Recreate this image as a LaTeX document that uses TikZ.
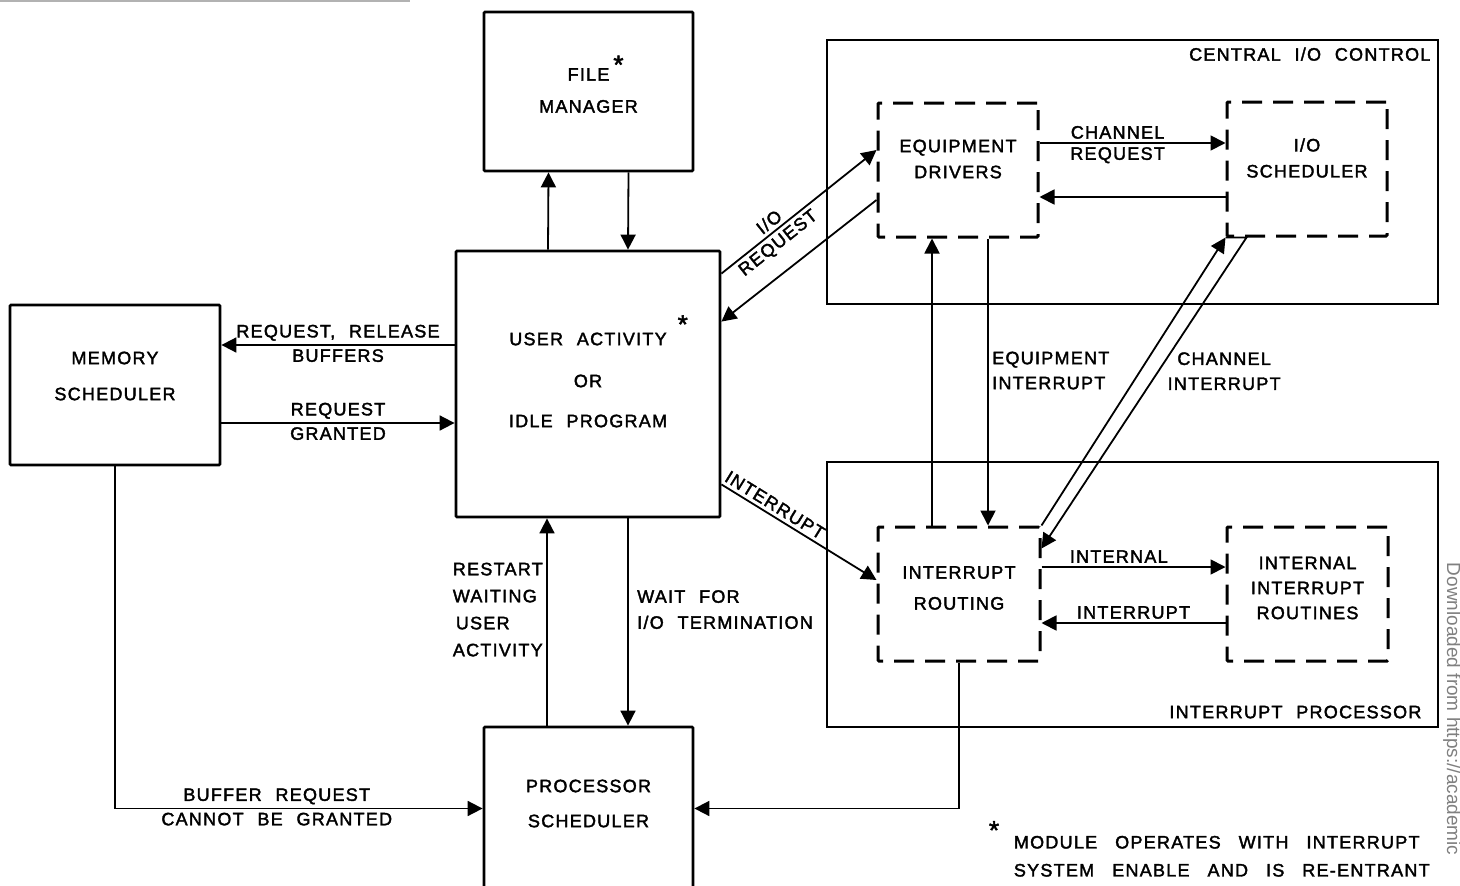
\documentclass[tikz,border=0pt]{standalone}
\usepackage{fontspec}
\setmainfont{Liberation Sans}[LetterSpace=7.0,WordSpace=2.2,FakeBold=2]
\newfontfamily\markfont{Liberation Sans}
\usetikzlibrary{arrows.meta,calc}

\newcommand{\modstar}[2]{\rlap{\hspace{#1}\smash{\raisebox{#2}{\fontsize{26}{26}\selectfont *}}}}
\newcommand{\widespaces}{\spaceskip=18pt\relax}

\begin{document}
\begin{tikzpicture}[x=1pt,y=-1pt,->,>={Triangle[length=15pt,width=15pt]},line width=1.8pt,
	font=\fontsize{18}{22}\selectfont,
	box/.style={draw,-,line width=2.8pt,rounded corners=1pt,align=center,inner sep=0pt},
	drv box/.style={box,dash pattern=on 20pt off 11pt,line width=3pt},
	area/.style={draw,-,line width=2.6pt,inner sep=0pt}]
	\useasboundingbox (0,0) rectangle (1460,886);
	\clip (0,0) rectangle (1460,886);

	% the two groups on the right
	\node[area,minimum width=611pt,minimum height=264pt] (cio) at (1132.5,172) {};
	\node[area,minimum width=611pt,minimum height=265pt] (ip) at (1132.5,594.5) {};
	\node[anchor=north east,inner sep=0pt] at ($(cio.north east)+(-8,8)$) {CENTRAL I/O CONTROL};
	\node[anchor=south east,inner sep=0pt] at ($(ip.south east)+(-17,-9)$) {INTERRUPT PROCESSOR};

	% modules
	\node[box,minimum width=209pt,minimum height=159pt,
		label={[yshift=1pt,align=center]center:{FILE\modstar{4pt}{7pt}\\[10pt]MANAGER}}] (fm) at (588.5,91.5) {};
	\node[box,minimum width=264pt,minimum height=266pt,
		label={[yshift=4pt,align=center]center:{USER ACTIVITY\modstar{11pt}{12pt}\\[20pt]OR\\[18pt]IDLE PROGRAM}}] (ua) at (588,384) {};
	\node[box,minimum width=210pt,minimum height=160pt,
		label={[yshift=9pt,align=center]center:{MEMORY\\[14pt]SCHEDULER}}] (ms) at (115,385) {};
	\node[box,minimum width=209pt,minimum height=163pt,
		label={[yshift=5pt,align=center]center:{PROCESSOR\\[13pt]SCHEDULER}}] (ps) at (588.5,808.5) {};
	\node[drv box,minimum width=160pt,minimum height=134pt,
		label={[yshift=11pt,align=center]center:{EQUIPMENT\\[4pt]DRIVERS}}] (ed) at (958,170) {};
	\node[drv box,minimum width=160pt,minimum height=134pt,
		label={[yshift=11pt,align=center]center:{I/O\\[4pt]SCHEDULER}}] (ios) at (1307,169) {};
	\node[drv box,minimum width=162pt,minimum height=134pt,
		label={[yshift=6pt,align=center]center:{INTERRUPT\\[9pt]ROUTING}}] (ir) at (959,594) {};
	\node[drv box,minimum width=161pt,minimum height=134pt,
		label={[yshift=6pt,align=center]center:{INTERNAL\\[3pt]INTERRUPT\\[3pt]ROUTINES}}] (iir) at (1307.5,594) {};

	% connections
	\draw ([xshift=-40pt]ua.north) -- ([xshift=-40pt]fm.south);
	\draw ([xshift=40pt]fm.south) -- ([xshift=40pt]ua.north);
	\draw ($(ua.west)+(0,-39)$) -- ($(ms.east)+(0,-40)$)
		node[midway,above] {REQUEST, RELEASE} node[midway,below] {BUFFERS};
	\draw ($(ms.east)+(0,38)$) -- ($(ua.west)+(0,39)$)
		node[midway,above] {REQUEST} node[midway,below] {GRANTED};
	\draw ($(ua.north east)+(0,24)$) -- ($(ed.west)+(0,-20)$)
		node[pos=0.35,sloped,above] {I/O} node[pos=0.32,sloped,below] {REQUEST};
	\draw ($(ed.west)+(0,30)$) -- ($(ua.north east)+(0,72)$);
	\draw ($(ua.south east)+(0,-34)$) -- ($(ir.west)+(0,-14)$)
		node[pos=0.31,sloped,above] {INTERRUPT};
	\draw ($(ed.east)+(0,-27)$) -- ($(ios.west)+(0,-26)$)
		node[pos=0.42,above] {CHANNEL} node[pos=0.42,below] {REQUEST};
	\draw ($(ios.west)+(0,28)$) -- ($(ed.east)+(0,27)$);
	\draw ($(ir.north)+(-27,0)$) -- ($(ed.south)+(-26,0)$);
	\draw ($(ed.south)+(30,0)$) -- ($(ir.north)+(29,0)$)
		node[pos=0.46,right,align=left] {EQUIPMENT\\[3pt]INTERRUPT};
	\draw (ir.north east) -- (ios.south west);
	\draw (ios.south west) -- ++(21,0) -- ($(ir.north east)+(0,23)$)
		node[pos=0.43,right,xshift=5pt,align=center] {CHANNEL\\[3pt]INTERRUPT};
	\draw ($(ir.east)+(0,-27)$) -- ($(iir.west)+(0,-27)$)
		node[pos=0.42,above] {INTERNAL};
	\draw ($(iir.west)+(0,29)$) -- ($(ir.east)+(0,29)$)
		node[midway,above] {INTERRUPT};
	\draw ([xshift=40pt]ua.south) -- ([xshift=39.5pt]ps.north)
		node[pos=0.44,right,xshift=5pt,align=left] {WAIT FOR\\[4pt]I/O TERMINATION};
	\draw ([xshift=-41.5pt]ps.north) -- ([xshift=-41pt]ua.south)
		node[pos=0.56,left,align=left] {RESTART\\[5pt]WAITING\\[5pt]\,USER\\[5pt]ACTIVITY};
	\draw (ms.south) |- (ps.west)
		node[pos=0.72,above] {BUFFER REQUEST} node[pos=0.72,below] {CANNOT BE GRANTED};
	\draw (ir.south) |- (ps.east);

	% footnote
	\node[anchor=north west,align=left,inner sep=0pt,font=\fontsize{18}{22}\selectfont\widespaces] (note) at (1013,835) {MODULE OPERATES WITH INTERRUPT\\[6pt]SYSTEM ENABLE AND IS RE-ENTRANT};
	\node[anchor=south east,inner sep=0pt,font=\fontsize{26}{26}\selectfont] at ($(note.north west)+(-13,5)$) {*};

	% scan margin
	\draw[-,gray!60,line width=1.5pt] (0,0.8) -- (410,0.8);
	\node[rotate=-90,anchor=west,gray,font=\markfont\fontsize{19}{21}\selectfont,inner sep=0pt] at (1452,562) {Downloaded from https://academic};
\end{tikzpicture}
\end{document}
